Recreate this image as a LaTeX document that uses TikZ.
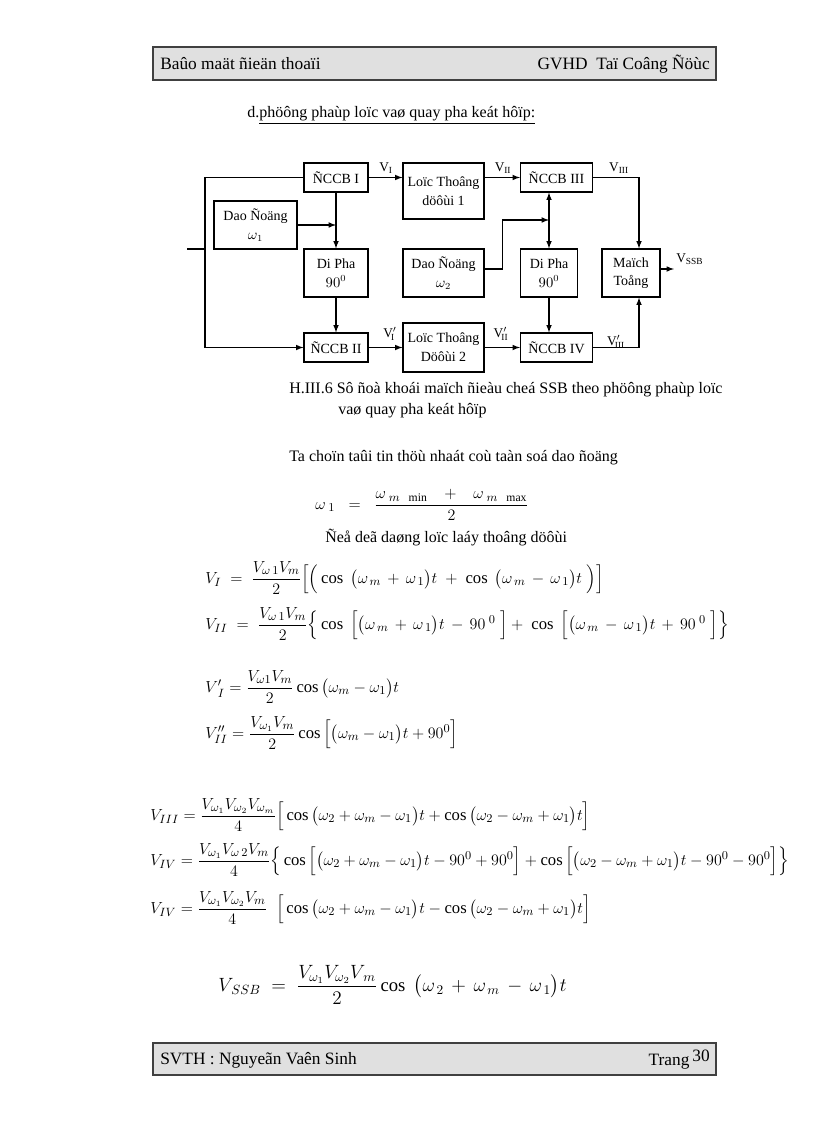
\documentclass[tikz,border=0pt]{standalone}
\usepackage{amsmath}
\usepackage{fontspec}
\setmainfont{Liberation Serif}
\usetikzlibrary{
    positioning,
    arrows,
    calc
}
\tikzset{
  block/.style = {
      draw,
      line width=0.9pt,
      align=center,
      inner sep=1pt,
      font=\fontsize{10.5}{14}\selectfont
  },
  mixer/.style = {
      block,
      minimum width=48pt,
      minimum height=21.75pt
  },
  wide mixer/.style = {
      mixer,
      minimum width=54pt
  },
  tall/.style = {
      block,
      minimum width=48pt,
      minimum height=36pt
  },
  filter/.style = {
      block,
      minimum width=60.75pt,
      minimum height=36.75pt
  },
  sig/.style = {
      inner sep=0pt,
      font=\fontsize{10}{12}\selectfont
  },
  wire/.style = {
      line width=0.9pt,
      >=latex
  },
  txt/.style = {
      anchor=west,
      inner sep=0pt,
      font=\fontsize{12}{14}\selectfont
  },
  eqn/.style = {
      txt,
      font=\fontsize{12.5}{15}\selectfont
  },
  band/.style = {
      draw=black!75,
      line width=1pt,
      fill=black!12
  }
}

\begin{document}
\begin{tikzpicture}[x=0.75pt, y=-0.75pt]
    \useasboundingbox (0,0) rectangle (816,1123);
    % Header and footer
    \draw[band] (153,47) rectangle (716,80);
    \node[txt, font=\fontsize{13}{15}\selectfont] (head L) at (160,64) {Baûo maät ñieän thoaïi};
    \node[txt, anchor=east, font=\fontsize{13}{15}\selectfont] (head R) at (710,64) {GVHD\ \ Taï Coâng Ñöùc};
    \draw[band] (153,1043) rectangle (716,1075);
    \node[txt, font=\fontsize{13}{15}\selectfont] (foot L) at (160,1060) {SVTH : Nguyeãn Vaên Sinh};
    \node[txt, anchor=east, font=\fontsize{13}{15}\selectfont] (foot R) at (710,1060) {Trang\,\raisebox{3pt}{30}};
    % Title
    \node[txt] (title) at (247,115) {d.\underline{phöông phaùp loïc vaø quay pha keát hôïp:}};
    % Blocks
    \node[mixer] (CCB1) at (336,177.5) {ÑCCB I};
    \node[filter, minimum height=42pt] (Loc1) at (443.5,191) {Loïc Thoâng\\döôùi 1};
    \node[wide mixer] (CCB3) at (556.5,177.5) {ÑCCB III};
    \node[tall, minimum width=62.25pt] (Dao1) at (255.5,225) {Dao Ñoäng\\$\omega_1$};
    \node[tall] (DiPha1) at (336,273) {Di Pha\\$90^0$};
    \node[tall, minimum width=60.75pt] (Dao2) at (443.5,273) {Dao Ñoäng\\$\omega_2$};
    \node[tall, minimum width=42.75pt] (DiPha2) at (549,273) {Di Pha\\$90^0$};
    \node[tall, minimum width=43.5pt] (Sum) at (631,273) {Maïch\\Toång};
    \node[mixer] (CCB2) at (336,347.5) {ÑCCB II};
    \node[filter] (Loc2) at (443.5,347.5) {Loïc Thoâng\\Döôùi 2};
    \node[wide mixer] (CCB4) at (556.5,347.5) {ÑCCB IV};
    % Signal labels
    \node[sig] (vI) at (386,168) {V\textsubscript{I}};
    \node[sig] (vII) at (503,168) {V\textsubscript{II}};
    \node[sig] (vIII) at (619,168) {V\textsubscript{III}};
    \node[sig] (vIp) at (390,334) {V$^{\prime}_{\!\mathrm{I}}$};
    \node[sig] (vIIp) at (501,334) {V$^{\prime}_{\!\mathrm{II}}$};
    \node[sig] (vIIIp) at (616,342) {V$^{\prime}_{\!\mathrm{III}}$};
    \node[sig, anchor=west] (vSSB) at (676,259) {V\textsubscript{SSB}};
    % Edges
    \coordinate (in) at (187,249);
    \coordinate (split) at (205,249);
    \coordinate (j2) at (549,220);
    \draw[wire] (in) -- (split);
    \draw[wire] (split) |- (CCB1.west);
    \draw[wire, ->] (split) |- (CCB2.west);
    \draw[wire, ->] (CCB1) -- (DiPha1);
    \draw[wire, ->] (Dao1.east) -- (Dao1.east -| CCB1.south);
    \draw[wire, ->] (DiPha1) -- (CCB2);
    \draw[wire, ->] (CCB1.east) -- (CCB1.east -| Loc1.west);
    \draw[wire, ->] (CCB3.west -| Loc1.east) -- (CCB3.west);
    \draw[wire, ->] (CCB3.east) -| ([xshift=6pt]Sum.north);
    \draw[wire, ->] ([yshift=3pt]Dao2.east) -- ++(13.5pt,0) |- (j2);
    \draw[wire, <->] (j2 |- CCB3.south) -- (DiPha2.north);
    \draw[wire, ->] (DiPha2) -- (DiPha2 |- CCB4.north);
    \draw[wire, ->] (CCB2) -- (Loc2);
    \draw[wire, ->] (Loc2) -- (CCB4);
    \draw[wire, ->] (CCB4.east) -| ([xshift=6pt]Sum.south);
    \draw[wire, ->] ([yshift=3pt]Sum.east) -- ++(10pt,0);
    % Caption and text
    \node[txt] (cap1) at (289,390) {H.III.6 Sô ñoà khoái maïch ñieàu cheá SSB theo phöông phaùp loïc};
    \node[txt] (cap2) at (338,411) {vaø quay pha keát hôïp};
    \node[txt] (line1) at (289,458) {Ta choïn taûi tin thöù nhaát coù taàn soá dao ñoäng};
    \node[eqn] (eq w1) at (315,505) {$\omega_{\;1} \;\;=\;\; \dfrac{\omega_{\;m\;\;\min} \;\;\;+\;\;\; \omega_{\;m\;\;\max}}{2}$};
    \node[txt] (line2) at (325,538) {Ñeå deã daøng loïc laáy thoâng döôùi};
    % Equations
    \node[eqn] (eq1) at (205,578) {$V_{I} \;=\; \dfrac{V_{\omega\,1}V_{m}}{2}\Big[\Big(\cos\;\big(\omega_{\,m} \,+\, \omega_{\,1}\big)t \;+\; \cos\;\big(\omega_{\,m} \,-\, \omega_{\,1}\big)t\;\Big)\Big]$};
    \node[eqn] (eq2) at (205,624) {$V_{II} \;=\; \dfrac{V_{\omega\,1}V_{m}}{2}\Big\{\cos\;\Big[\big(\omega_{\,m} \,+\, \omega_{\,1}\big)t \,-\, 90^{\;0}\;\Big] + \;\cos\;\Big[\big(\omega_{\,m} \,-\, \omega_{\,1}\big)t \,+\, 90^{\;0}\;\Big]\Big\}$};
    \node[eqn] (eq3) at (205,687) {$V^{\prime}_{\;I} = \dfrac{V_{\omega 1}V_{m}}{2}\cos\big(\omega_{m} - \omega_{1}\big)t$};
    \node[eqn] (eq4) at (205,733) {$V^{\prime\prime}_{II} = \dfrac{V_{\omega_1}V_{m}}{2}\cos\Big[\big(\omega_{m} - \omega_{1}\big)t + 90^{0}\Big]$};
    \node[eqn] (eq5) at (150,815) {$V_{III} = \dfrac{V_{\omega_1}V_{\omega_2}V_{\omega_m}}{4}\Big[\cos\big(\omega_2 + \omega_m - \omega_1\big)t + \cos\big(\omega_2 - \omega_m + \omega_1\big)t\Big]$};
    \node[eqn] (eq6) at (150,860) {$V_{IV} = \dfrac{V_{\omega_1}V_{\omega\,2}V_{m}}{4}\Big\{\cos\Big[\big(\omega_2 + \omega_m - \omega_1\big)t - 90^0 + 90^0\Big] + \cos\Big[\big(\omega_2 - \omega_m + \omega_1\big)t - 90^0 - 90^0\Big]\Big\}$};
    \node[eqn] (eq7) at (150,908) {$V_{IV} = \dfrac{V_{\omega_1}V_{\omega_2}V_{m}}{4}\;\;\Big[\cos\big(\omega_2 + \omega_m - \omega_1\big)t - \cos\big(\omega_2 - \omega_m + \omega_1\big)t\Big]$};
    \node[eqn, font=\fontsize{14}{16}\selectfont] (eq8) at (218,985) {$V_{\,SSB} \;=\; \dfrac{V_{\omega_1}V_{\omega_2}V_{\,m}}{2}\cos\;\big(\omega_{\,2} \,+\, \omega_{\,m} \,-\, \omega_{\,1}\big)t$};
\end{tikzpicture}
\end{document}
